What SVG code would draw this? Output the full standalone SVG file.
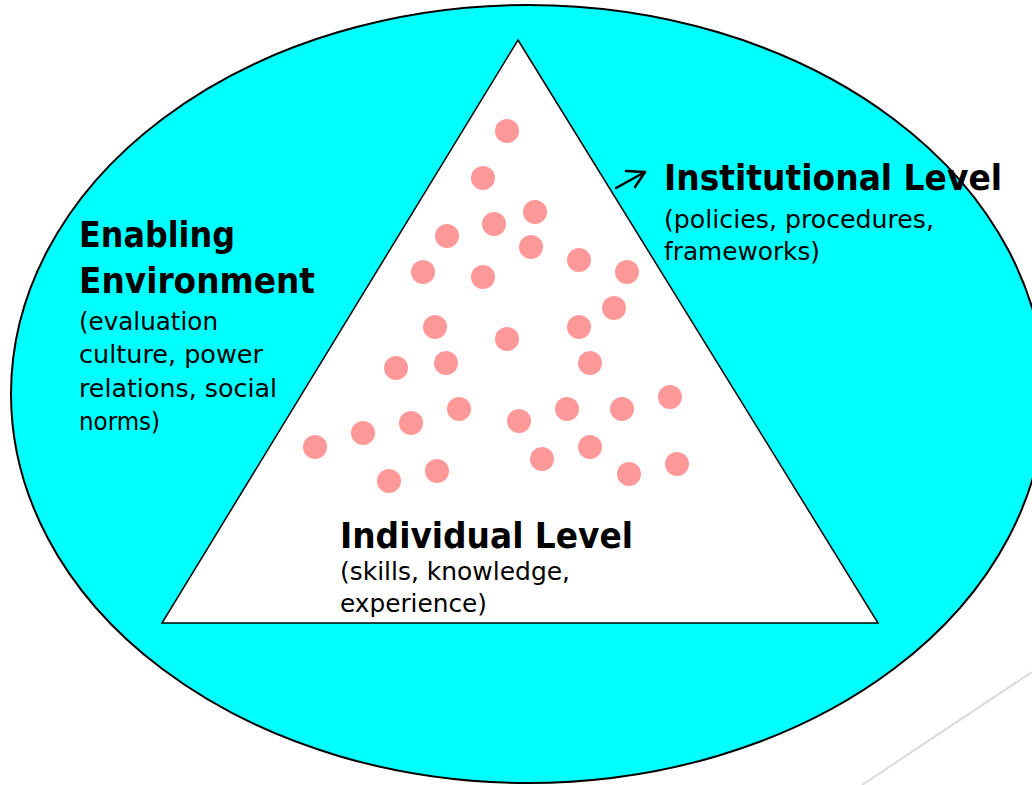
<svg xmlns="http://www.w3.org/2000/svg" width="1032" height="785" viewBox="0 0 1032 785">
<style>
.h{font-family:"DejaVu Sans Condensed","DejaVu Sans",sans-serif;font-weight:bold;font-size:36px;fill:#000}
.t{font-family:"DejaVu Sans Condensed","DejaVu Sans",sans-serif;font-size:25.5px;fill:#000}
.dot{fill:#ff9999}
</style>
<rect width="1032" height="785" fill="#fff"/>
<line x1="862" y1="785" x2="1032" y2="672" stroke="#d9d9d9" stroke-width="2"/>
<g id="enabling-environment">
<ellipse cx="528" cy="394" rx="517" ry="389" fill="#00ffff" stroke="#000" stroke-width="2"/>
<text class="h" x="79" y="247" textLength="156" lengthAdjust="spacingAndGlyphs">Enabling</text>
<text class="h" x="79" y="293" textLength="236" lengthAdjust="spacingAndGlyphs">Environment</text>
<text class="t" x="79" y="330" textLength="139" lengthAdjust="spacingAndGlyphs">(evaluation</text>
<text class="t" x="79" y="363" textLength="184" lengthAdjust="spacingAndGlyphs">culture, power</text>
<text class="t" x="79" y="397" textLength="198" lengthAdjust="spacingAndGlyphs">relations, social</text>
<text class="t" x="79" y="430" textLength="81" lengthAdjust="spacingAndGlyphs">norms)</text>
</g>
<g id="individual-level">
<polygon points="518,40 878,623 162,623" fill="#fff" stroke="#000" stroke-width="1.5" stroke-linejoin="miter"/>
<g>
<circle class="dot" cx="507" cy="131" r="12"/>
<circle class="dot" cx="483" cy="178" r="12"/>
<circle class="dot" cx="535" cy="212" r="12"/>
<circle class="dot" cx="494" cy="224" r="12"/>
<circle class="dot" cx="447" cy="236" r="12"/>
<circle class="dot" cx="531" cy="247" r="12"/>
<circle class="dot" cx="423" cy="272" r="12"/>
<circle class="dot" cx="483" cy="277" r="12"/>
<circle class="dot" cx="579" cy="260" r="12"/>
<circle class="dot" cx="627" cy="272" r="12"/>
<circle class="dot" cx="614" cy="308" r="12"/>
<circle class="dot" cx="435" cy="327" r="12"/>
<circle class="dot" cx="507" cy="339" r="12"/>
<circle class="dot" cx="579" cy="327" r="12"/>
<circle class="dot" cx="396" cy="368" r="12"/>
<circle class="dot" cx="446" cy="363" r="12"/>
<circle class="dot" cx="590" cy="363" r="12"/>
<circle class="dot" cx="459" cy="409" r="12"/>
<circle class="dot" cx="670" cy="397" r="12"/>
<circle class="dot" cx="363" cy="433" r="12"/>
<circle class="dot" cx="411" cy="423" r="12"/>
<circle class="dot" cx="519" cy="421" r="12"/>
<circle class="dot" cx="567" cy="409" r="12"/>
<circle class="dot" cx="622" cy="409" r="12"/>
<circle class="dot" cx="315" cy="447" r="12"/>
<circle class="dot" cx="590" cy="447" r="12"/>
<circle class="dot" cx="542" cy="459" r="12"/>
<circle class="dot" cx="437" cy="471" r="12"/>
<circle class="dot" cx="677" cy="464" r="12"/>
<circle class="dot" cx="389" cy="481" r="12"/>
<circle class="dot" cx="629" cy="474" r="12"/>
</g>
<text class="h" x="340" y="548" textLength="293" lengthAdjust="spacingAndGlyphs">Individual Level</text>
<text class="t" x="340" y="580" textLength="230" lengthAdjust="spacingAndGlyphs">(skills, knowledge,</text>
<text class="t" x="340" y="612" textLength="147" lengthAdjust="spacingAndGlyphs">experience)</text>
</g>
<g id="institutional-level">
<text class="h" x="664" y="190" textLength="338" lengthAdjust="spacingAndGlyphs">Institutional Level</text>
<text class="t" x="664" y="228" textLength="270" lengthAdjust="spacingAndGlyphs">(policies, procedures,</text>
<text class="t" x="664" y="260" textLength="156" lengthAdjust="spacingAndGlyphs">frameworks)</text>
</g>
<g id="connectors" fill="none" stroke="#000" stroke-width="2.5" stroke-linecap="round" stroke-linejoin="round">
<path d="M616,188 L645,172"/>
<path d="M626,171 L645,172 L635,187"/>
</g>
</svg>
